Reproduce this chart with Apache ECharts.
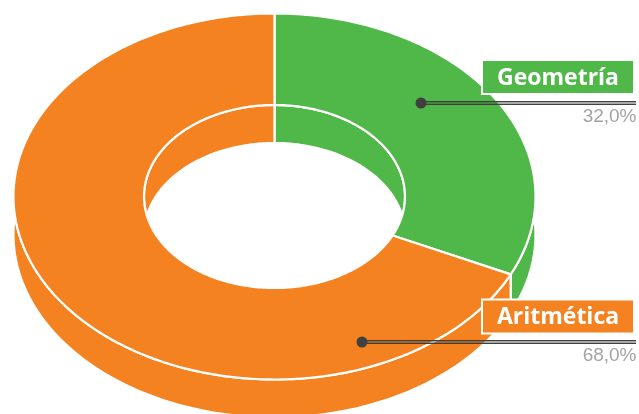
<!DOCTYPE html>
<html>
<head>
<meta charset="utf-8">
<style>
  html, body { margin: 0; padding: 0; background: #fff; }
  #chart { width: 639px; height: 414px; }
</style>
</head>
<body>
<div id="chart"></div>
<script src="https://cdn.jsdelivr.net/npm/echarts@6/dist/echarts.min.js"></script>
<script>
var categories = ['Geometría', 'Aritmética'];
var shares = [32.0, 68.0];
var colors = ['#50b848', '#f58220'];

// look of the tilted ring, in px
var cx = 274.5, cy = 196.5;
var outerX = 261, outerY = 183;
var innerX = 130.5, innerY = 91.5;
var depth = 38;
var labelBoxes = [
  { boxX: 482, boxY: 60, dotX: 421, lineY: 103 },
  { boxX: 482, boxY: 299.5, dotX: 362, lineY: 342 }
];

function sliceRange(i) {
  var before = 0, total = 0;
  shares.forEach(function (v, k) {
    total += v;
    if (k < i) before += v;
  });
  return [before / total * 360, (before + shares[i]) / total * 360];
}

function pt(deg, rx, ry, dy) {
  var a = deg * Math.PI / 180;
  return [cx + rx * Math.sin(a), cy - ry * Math.cos(a) + dy];
}

function arc(from, to, rx, ry, dy) {
  var pts = [];
  var n = Math.max(2, Math.ceil(Math.abs(to - from)));
  for (var k = 0; k <= n; k++) pts.push(pt(from + (to - from) * k / n, rx, ry, dy));
  return pts;
}

function poly(points, color) {
  return {
    type: 'polygon',
    shape: { points: points },
    style: { fill: color, stroke: '#fff', lineWidth: 2.2, lineJoin: 'round' }
  };
}

function renderSide(params, api) {
  var i = params.dataIndex, r = sliceRange(i);
  return poly(arc(r[0], r[1], outerX, outerY, 0).concat(arc(r[1], r[0], outerX, outerY, depth)), colors[i]);
}

// the far wall of the hole, seen between the top edge and the same edge moved down
function renderHole(params, api) {
  var i = params.dataIndex, r = sliceRange(i);
  var edge = 90 + Math.asin(depth / 2 / innerY) * 180 / Math.PI;
  var children = [];
  [[0, edge], [360 - edge, 360]].forEach(function (back) {
    var from = Math.max(r[0], back[0]), to = Math.min(r[1], back[1]);
    if (to <= from) return;
    var top = [], low = [];
    for (var d = from; d <= to + 0.001; d += (to - from) / 60) {
      var mirror = d > 90 && d < 180 ? 180 - d : (d >= 180 && d < 270 ? 540 - d : d);
      top.push(pt(d, innerX, innerY, 0));
      low.unshift(pt(mirror, innerX, innerY, depth));
    }
    children.push(poly(top.concat(low), colors[i]));
  });
  return { type: 'group', children: children };
}

function renderTop(params, api) {
  var i = params.dataIndex, r = sliceRange(i);
  return poly(arc(r[0], r[1], outerX, outerY, 0).concat(arc(r[1], r[0], innerX, innerY, 0)), colors[i]);
}

function renderLabel(params, api) {
  var i = params.dataIndex, b = labelBoxes[i];
  return {
    type: 'group',
    children: [
      { type: 'rect', shape: { x: b.boxX, y: b.boxY, width: 152, height: 34 },
        style: { fill: colors[i], stroke: '#fff', lineWidth: 2 } },
      { type: 'text', style: { x: b.boxX + 76, y: b.boxY + 18, text: categories[i], fill: '#fff',
        font: 'bold 23px "Open Sans"', textAlign: 'center', textVerticalAlign: 'middle' } },
      { type: 'rect', shape: { x: b.dotX, y: b.lineY - 2, width: 636 - b.dotX, height: 4 },
        style: { fill: 'rgba(64,64,65,0.45)' } },
      { type: 'rect', shape: { x: b.dotX, y: b.lineY - 2, width: 636 - b.dotX, height: 1 },
        style: { fill: '#404041' } },
      { type: 'rect', shape: { x: b.dotX, y: b.lineY + 1, width: 636 - b.dotX, height: 1 },
        style: { fill: '#404041' } },
      { type: 'circle', shape: { cx: b.dotX, cy: b.lineY, r: 5.5 }, style: { fill: '#404041' } },
      { type: 'text', style: { x: 636.5, y: b.lineY + 14, text: shares[i].toFixed(1).replace('.', ',') + '%',
        fill: '#a3a3a3', font: '19px "Liberation Sans"', textAlign: 'right', textVerticalAlign: 'middle' } }
    ]
  };
}

var chart = echarts.init(document.getElementById('chart'));
var layers = [renderSide, renderHole, renderTop, renderLabel];
chart.setOption({
  animation: false,
  backgroundColor: '#fff',
  series: layers.map(function (fn) {
    return { type: 'custom', coordinateSystem: 'none', silent: true, data: shares, renderItem: fn };
  })
});
</script>
</body>
</html>
